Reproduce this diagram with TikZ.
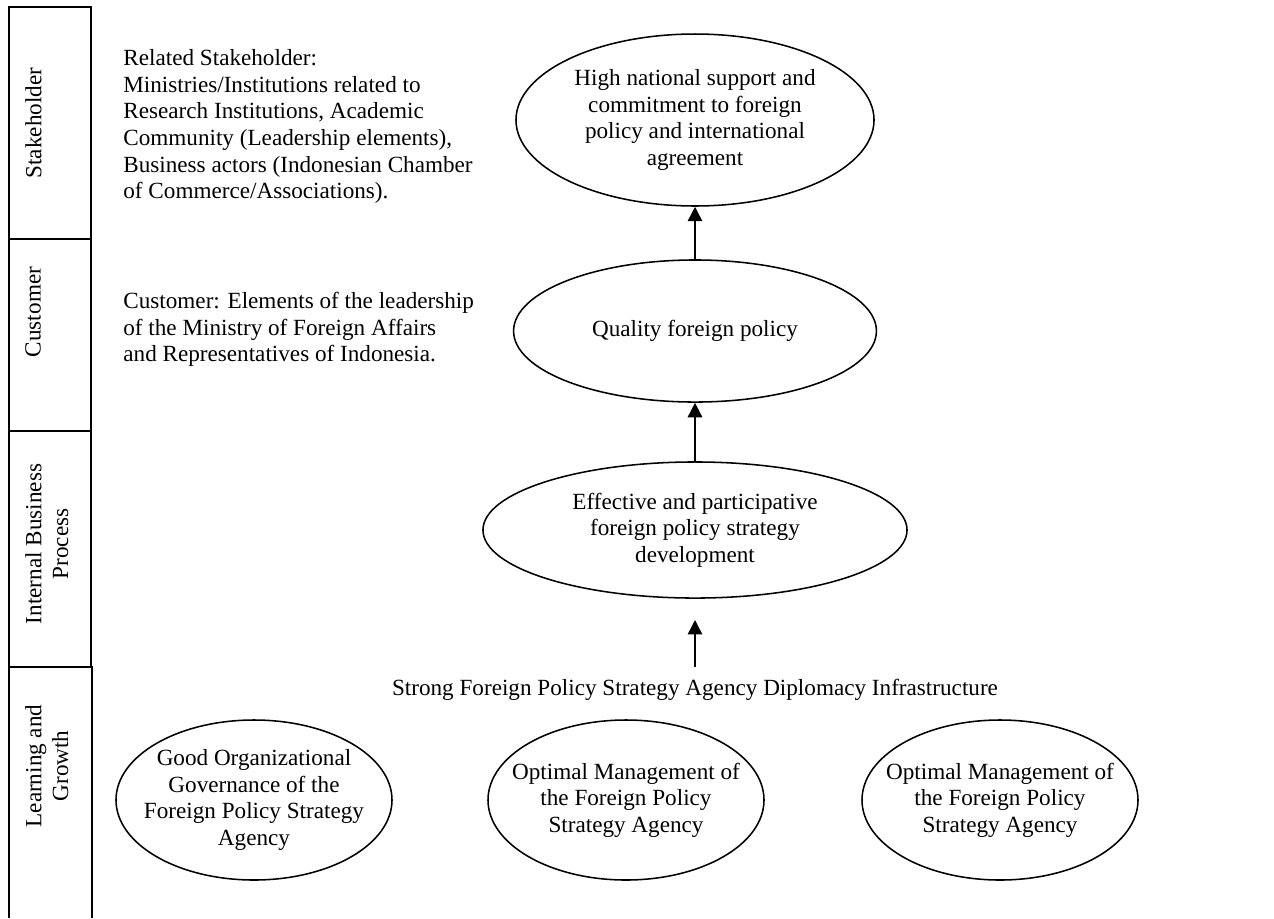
\documentclass[tikz,border=0pt]{standalone}
\usepackage{fontspec}
\setmainfont{Liberation Serif}
\usetikzlibrary{shapes.geometric,arrows.meta}
\begin{document}
\begin{tikzpicture}[x=0.5181pt,y=-0.5181pt,
  every node/.style={font=\fontsize{12}{13.8}\selectfont},
  goal/.style={draw,ellipse,line width=0.8pt,inner sep=0pt},
  gtext/.style={align=center,inner sep=0pt},
  lane/.style={draw,line width=0.8pt},
  lanelabel/.style={rotate=90,anchor=north,inner sep=0pt,align=center},
  note/.style={anchor=north west,inner sep=0pt,align=left},
  arr/.style={line width=0.8pt,-{Triangle[width=7.5pt,length=7.5pt]}}]
\useasboundingbox (0,0) rectangle (1274,918);
% lanes
\draw[lane] (9,7) rectangle (91,239);
\draw[lane] (9,239) rectangle (91,431);
\draw[lane] (9,431) rectangle (91,667);
\draw[lane] (9,918) -- (9,667) -- (92,667) -- (92,918);
\node[lanelabel] (l1) at (25,123) {Stakeholder};
\node[lanelabel] (l2) at (25,312) {Customer};
\node[lanelabel] (l3) at (25,544) {Internal Business\\Process};
\node[lanelabel] (l4) at (25,766) {Learning and\\Growth};
% notes
\node[note] (n1) at (123,49) {Related Stakeholder:\\Ministries/Institutions related to\\Research Institutions, Academic\\Community (Leadership elements),\\Business actors (Indonesian Chamber\\of Commerce/Associations).};
\node[note] (n2) at (123,292) {Customer: Elements of the leadership\\of the Ministry of Foreign Affairs\\and Representatives of Indonesia.};
% goals
\node[goal,minimum width=185.5pt,minimum height=89.1pt] (top) at (695,120) {};
\node[gtext] (topt) at (top) {High national support and\\commitment to foreign\\policy and international\\agreement};
\node[goal,minimum width=188pt,minimum height=73.6pt] (qual) at (695,331) {};
\node[gtext] (qualt) at (qual) {Quality foreign policy};
\node[goal,minimum width=219.7pt,minimum height=70.5pt] (eff) at (695,530) {};
\node[gtext] (efft) at (eff) {Effective and participative\\foreign policy strategy\\development};
\node (strong) at (695,690) {Strong Foreign Policy Strategy Agency Diplomacy Infrastructure};
\node[goal,minimum width=143pt,minimum height=82.9pt] (g1) at (254,800) {};
\node[gtext] (g1t) at (g1) {Good Organizational\\Governance of the\\Foreign Policy Strategy\\Agency};
\node[goal,minimum width=143pt,minimum height=82.9pt] (g2) at (626,800) {};
\node[gtext] (g2t) at (g2) {Optimal Management of\\the Foreign Policy\\Strategy Agency};
\node[goal,minimum width=143pt,minimum height=82.9pt] (g3) at (1000,800) {};
\node[gtext] (g3t) at (g3) {Optimal Management of\\the Foreign Policy\\Strategy Agency};
% arrows
\coordinate (a3s) at (695,667);
\coordinate (a3e) at (695,620);
\draw[arr] (qual.north) -- (top.south);
\draw[arr] (eff.north) -- (qual.south);
\draw[arr] (a3s) -- (a3e);
\end{tikzpicture}
\end{document}
